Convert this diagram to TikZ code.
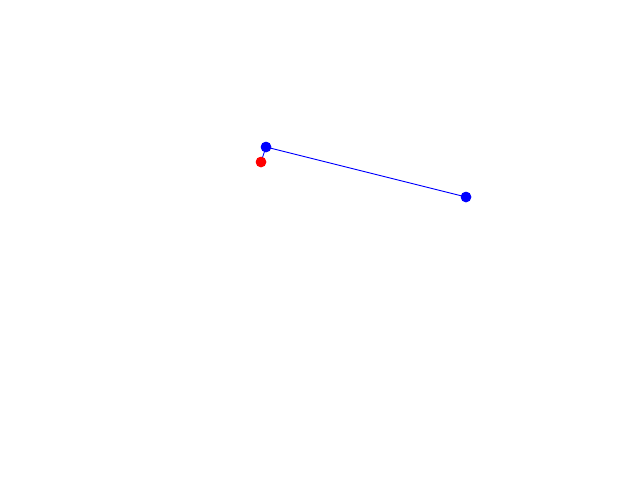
\documentclass[tikz,border=0pt]{standalone}
\begin{document}
\begin{tikzpicture}[x=1pt,y=-1pt,
  dot/.style={circle,inner sep=0pt,minimum size=10.5pt},
  link/.style={blue,line width=0.9pt}]
\useasboundingbox[fill=white] (0,0) rectangle (640,480);
\node[dot,fill=blue] (a) at (266,147) {};
\node[dot,fill=red] (r) at (261,162) {};
\node[dot,fill=blue] (b) at (466,197) {};
\draw[link] (r.center) -- (a.center);
\draw[link] (a.center) -- (b.center);
\node[dot,fill=blue] at (a) {};
\node[dot,fill=red] at (r) {};
\node[dot,fill=blue] at (b) {};
\end{tikzpicture}
\end{document}
